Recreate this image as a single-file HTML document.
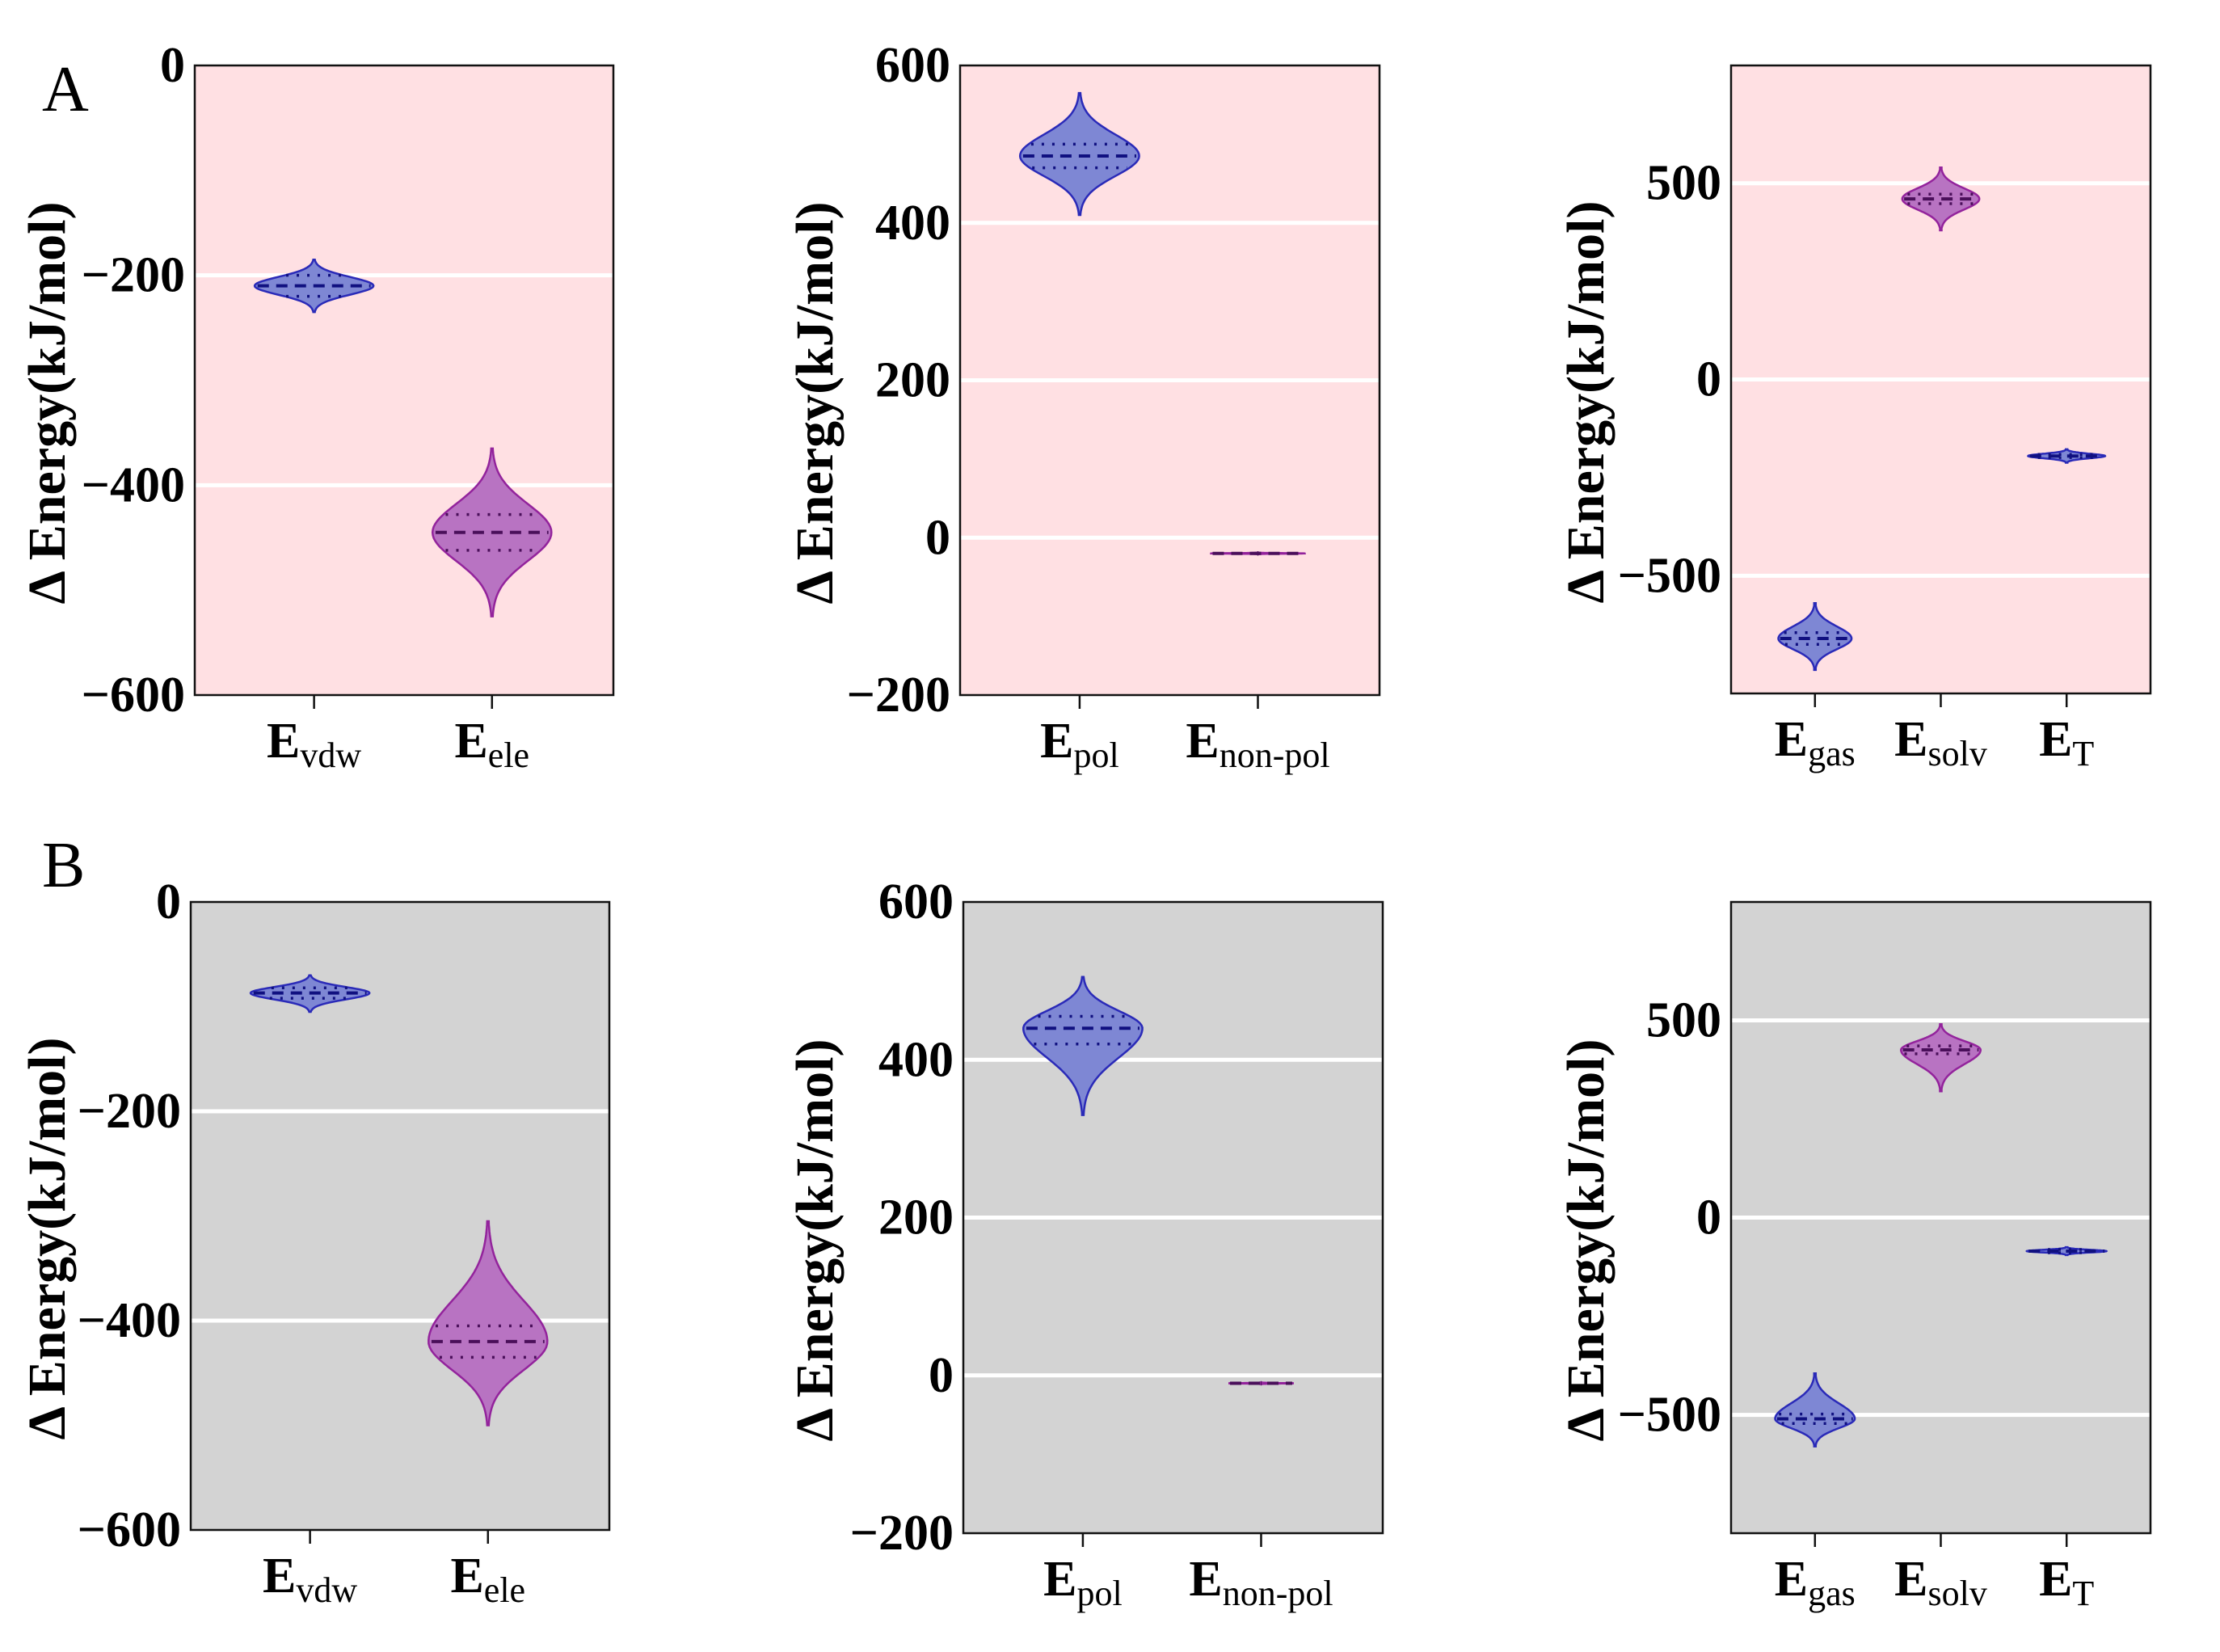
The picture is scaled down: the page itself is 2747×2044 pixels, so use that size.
<!DOCTYPE html>
<html><head><meta charset="utf-8"><style>
html,body{margin:0;padding:0;background:#fff;}
svg{display:block;font-family:"Liberation Serif",serif;}
</style></head><body>
<svg id="fig" width="2747" height="2044" viewBox="0 0 2747 2044" xmlns="http://www.w3.org/2000/svg">
<text x="52" y="137" font-size="80">A</text>
<text x="52" y="1097" font-size="80">B</text>
</svg>
<script>
// ---- data ----
const panelCats1 = ["vdw","ele"];
const panelCats2 = ["pol","non-pol"];
const panelCats3 = ["gas","solv","T"];
const yRange1 = [-600, 0];
const yRange2 = [-200, 600];
const yRange3 = [-800, 800];
const yTicks1 = [0, -200, -400, -600];
const yTicks2 = [600, 400, 200, 0, -200];
const yTicks3 = [500, 0, -500];
// row A medians / q1 / q3 / min / max / relative width
const aMed1 = [-210, -445], aQ1_1 = [-220, -462], aQ3_1 = [-200, -428], aMin1 = [-235, -525], aMax1 = [-185, -365], aW1 = [1, 1];
const aMed2 = [485, -20], aQ1_2 = [470, -21], aQ3_2 = [500, -19], aMin2 = [410, -21], aMax2 = [565, -19], aW2 = [1, 0.8];
const aMed3 = [-660, 460, -195], aQ1_3 = [-675, 448, -199], aQ3_3 = [-645, 472, -191], aMin3 = [-740, 380, -212], aMax3 = [-570, 540, -178], aW3 = [0.95, 1, 1];
// row B
const bMed1 = [-87, -420], bQ1_1 = [-92, -435], bQ3_1 = [-82, -405], bMin1 = [-105, -500], bMax1 = [-70, -305], bW1 = [1, 1];
const bMed2 = [440, -10], bQ1_2 = [420, -11], bQ3_2 = [455, -9], bMin2 = [330, -11], bMax2 = [505, -9], bW2 = [1, 0.55];
const bMed3 = [-510, 425, -85], bQ1_3 = [-522, 415, -89], bQ3_3 = [-498, 435, -81], bMin3 = [-580, 320, -95], bMax3 = [-395, 490, -75], bW3 = [1, 1, 1];
const colorsBlue = ["#7e87d4", "#2a2ab8"];
const colorsMag = ["#b873c2", "#93239c"];

const NS = "http://www.w3.org/2000/svg";
const svg = document.getElementById("fig");
function mk(tag, attrs, parent) {
  const e = document.createElementNS(NS, tag);
  for (const k in attrs) e.setAttribute(k, attrs[k]);
  (parent || svg).appendChild(e);
  return e;
}

function panel(id, box, yr, ticks, cats, catFrac, halfFrac, med, q1, q3, mn, mx, wr, colIdx, bg, labelX) {
  const [x0, x1, y0, y1] = box;
  const g = mk("g", {});
  
  
  const yS = v => y1 - (v - yr[0]) / (yr[1] - yr[0]) * (y1 - y0);
  const xS = i => x0 + catFrac[i] * (x1 - x0);
  const bgR = mk("rect", {x: x0, y: y0, width: x1 - x0, height: y1 - y0, fill: bg}, g);
  
  
  ticks.forEach(t => {
    if (t > yr[0] && t < yr[1]) {
      const gl = mk("line", {x1: x0, x2: x1, y1: yS(t), y2: yS(t), stroke: "#fff", "stroke-width": 5}, g);
      
      
    }
    const tl = mk("text", {x: x0 - 12, y: yS(t) + 20, "text-anchor": "end", "font-size": 62, "font-weight": "bold"}, g);
    tl.textContent = (t < 0 ? "\u2212" + (-t) : String(t));
    
    
  });
  const fr = mk("rect", {x: x0, y: y0, width: x1 - x0, height: y1 - y0, fill: "none", stroke: "#111", "stroke-width": 2.5}, g);
  
  
  const hwMax = halfFrac * (x1 - x0);
  cats.forEach((c, i) => {
    const cx = xS(i);
    const tk = mk("line", {x1: cx, x2: cx, y1: y1, y2: y1 + 17, stroke: "#111", "stroke-width": 2.5}, g);
    
    
    const lab = mk("text", {x: cx, y: y1 + 77, "text-anchor": "middle"}, g);
    
    
    const t1 = mk("tspan", {"font-size": 62, "font-weight": "bold"}, lab); t1.textContent = "E";
    const t2 = mk("tspan", {"font-size": 44, dy: 12}, lab); t2.textContent = c;
    const col = colIdx[i] === 0 ? colorsBlue : colorsMag;
    const up = (mx[i] - med[i]) / 2.6, dn = (med[i] - mn[i]) / 2.6;
    const hw = v => {
      const d = v - med[i];
      const s = d >= 0 ? up : dn;
      const z = d / (s || 1);
      return hwMax * wr[i] * Math.exp(-0.5 * z * z * 1.3);
    };
    const N = 60, pts = [], back = [];
    for (let k = 0; k <= N; k++) {
      const v = mn[i] + (mx[i] - mn[i]) * k / N;
      const w = Math.max(hw(v), 1);
      pts.push((cx + w).toFixed(1) + "," + yS(v).toFixed(1));
      back.unshift((cx - w).toFixed(1) + "," + yS(v).toFixed(1));
    }
    const vp = mk("polygon", {points: pts.concat(back).join(" "), fill: col[0], stroke: col[1], "stroke-width": 2.5}, g);
    
    
    [[med[i], "14,9", 4], [q1[i], "3,10", 3.5], [q3[i], "3,10", 3.5]].forEach(([v, da, sw]) => {
      const w = hw(v) * 0.95;
      const ql = mk("line", {x1: cx - w, x2: cx + w, y1: yS(v), y2: yS(v), stroke: colIdx[i] === 0 ? "#101080" : "#4a0f5a", "stroke-width": sw, "stroke-dasharray": da}, g);
      
      
    });
  });
  const cy = (y0 + y1) / 2 + 28;
  const yl = mk("text", {x: labelX, y: cy, "text-anchor": "middle", "font-size": 66, "font-weight": "bold",
    transform: "rotate(-90 " + labelX + " " + cy + ")"}, g);
  yl.textContent = "\u0394 Energy(kJ/mol)";
  
  
}
const pink = "#ffe0e3", grey = "#d3d3d3";
panel("panel-a-vdw-ele", [241, 759, 81, 860], yRange1, yTicks1, panelCats1, [0.285, 0.71], 0.142, aMed1, aQ1_1, aQ3_1, aMin1, aMax1, aW1, [0, 1], pink, 80);
panel("panel-a-pol-nonpol", [1188, 1707, 81, 860], yRange2, yTicks2, panelCats2, [0.285, 0.71], 0.142, aMed2, aQ1_2, aQ3_2, aMin2, aMax2, aW2, [0, 1], pink, 1030);
panel("panel-a-total", [2142, 2661, 81, 858], yRange3, yTicks3, panelCats3, [0.2, 0.5, 0.8], 0.092, aMed3, aQ1_3, aQ3_3, aMin3, aMax3, aW3, [0, 1, 0], pink, 1984);
panel("panel-b-vdw-ele", [236, 754, 1116, 1893], yRange1, yTicks1, panelCats1, [0.285, 0.71], 0.142, bMed1, bQ1_1, bQ3_1, bMin1, bMax1, bW1, [0, 1], grey, 80);
panel("panel-b-pol-nonpol", [1192, 1711, 1116, 1897], yRange2, yTicks2, panelCats2, [0.285, 0.71], 0.142, bMed2, bQ1_2, bQ3_2, bMin2, bMax2, bW2, [0, 1], grey, 1030);
panel("panel-b-total", [2142, 2661, 1116, 1897], yRange3, yTicks3, panelCats3, [0.2, 0.5, 0.8], 0.095, bMed3, bQ1_3, bQ3_3, bMin3, bMax3, bW3, [0, 1, 0], grey, 1984);
</script>
</body></html>
